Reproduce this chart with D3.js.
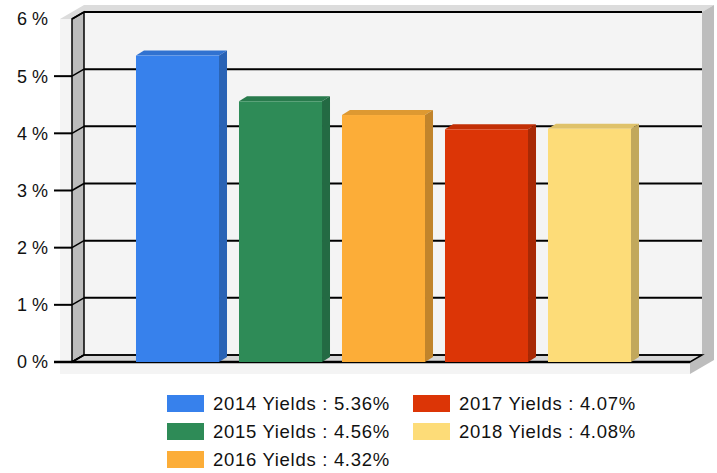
<!DOCTYPE html>
<html>
<head>
<meta charset="utf-8">
<script src="https://cdn.jsdelivr.net/npm/d3@7"></script>
<style>
  body { margin: 0; background: #fff; }
  text { font-family: "Liberation Sans", Arial, sans-serif; }
</style>
</head>
<body>
<div id="chart"></div>
<script>
// data
const years = ["2014", "2015", "2016", "2017", "2018"];
const yields = [5.36, 4.56, 4.32, 4.07, 4.08];
const colors = ["#3781EC", "#2E8B57", "#FCAD38", "#DC3506", "#FDDC78"];
const yTicks = [0, 1, 2, 3, 4, 5, 6];

const W = 717, H = 473;
// wall depth offset (front -> back)
const depth = {dx: 12, dy: -7};
// bar depth offset
const barDepth = {dx: 8, dy: -5};

const front = {left: 72, right: 690, bottom: 362, top: 19};

const svg = d3.select("#chart").append("svg")
    .attr("width", W)
    .attr("height", H);

// front-plane y scale; the back wall is the same shifted by depth
const yScale = d3.scaleLinear().domain([0, 6]).range([front.bottom, front.bottom - 6 * 57.17]);
const yBack = v => yScale(v) + depth.dy;

const xScale = d3.scaleBand().domain(years)
    .range([126, 641])
    .paddingInner(0.194)
    .paddingOuter(0.097);

const poly = pts => pts.map(p => p.join(",")).join(" ");

// outer frame box
const fx0 = 60, fx1 = front.right, fy0 = front.top, fy1 = 374;
const od = {dx: 24, dy: -14};
svg.append("rect")
    .attr("x", fx0).attr("y", fy0)
    .attr("width", fx1 - fx0).attr("height", fy1 - fy0)
    .attr("fill", "#f4f4f4");
svg.append("polygon")
    .attr("points", poly([[fx0, fy0], [fx0 + od.dx, fy0 + od.dy], [fx1 + od.dx, fy0 + od.dy], [fx1, fy0]]))
    .attr("fill", "#dcdcdc");
svg.append("polygon")
    .attr("points", poly([[fx1, fy0], [fx1 + od.dx, fy0 + od.dy], [fx1 + od.dx, fy1 + od.dy], [fx1, fy1]]))
    .attr("fill", "#bdbdbd");

// back wall
const bx0 = front.left + depth.dx, bx1 = front.right + depth.dx;
svg.append("rect")
    .attr("x", bx0).attr("y", yBack(6))
    .attr("width", bx1 - bx0).attr("height", yBack(0) - yBack(6))
    .attr("fill", "#f4f4f4");

// left wall
svg.append("polygon")
    .attr("points", poly([[front.left, yScale(6)], [bx0, yBack(6)], [bx0, yBack(0)], [front.left, yScale(0)]]))
    .attr("fill", "#bcbcbc")
    .attr("stroke", "#000")
    .attr("stroke-width", 1.5);

// floor
svg.append("polygon")
    .attr("points", poly([[front.left, yScale(0)], [bx0, yBack(0)], [bx1, yBack(0)], [front.right, yScale(0)]]))
    .attr("fill", "#d6d6d6")
    .attr("stroke", "#000")
    .attr("stroke-width", 1.5);

// grid lines on back wall + ticks
const grid = svg.append("g").attr("class", "grid");
yTicks.forEach(t => {
    grid.append("line")
        .attr("x1", bx0).attr("x2", bx1)
        .attr("y1", yBack(t)).attr("y2", yBack(t))
        .attr("stroke", "#000").attr("stroke-width", t === 0 ? 1.5 : 2);
    grid.append("line")
        .attr("x1", front.left).attr("x2", bx0)
        .attr("y1", yScale(t)).attr("y2", yBack(t))
        .attr("stroke", "#000").attr("stroke-width", 1.5);
    if (t < 6) {
        grid.append("line")
            .attr("x1", 54).attr("x2", front.left)
            .attr("y1", yScale(t)).attr("y2", yScale(t))
            .attr("stroke", "#000").attr("stroke-width", 2);
    }
    grid.append("text")
        .attr("x", 48)
        .attr("y", yScale(t))
        .attr("dy", "0.36em")
        .attr("text-anchor", "end")
        .attr("font-size", 18)
        .attr("fill", "#111")
        .text(t + " %");
});

// front floor edge
svg.append("line")
    .attr("x1", 54).attr("x2", front.right)
    .attr("y1", yScale(0)).attr("y2", yScale(0))
    .attr("stroke", "#000").attr("stroke-width", 2.5);

// bars
const bars = svg.selectAll(".bar")
    .data(years.map((y, i) => ({year: y, value: yields[i], color: colors[i]})))
    .join("g")
    .attr("class", "bar");

bars.append("polygon")
    .attr("points", d => {
        const x0 = xScale(d.year), x1 = x0 + xScale.bandwidth();
        const yt = yScale(d.value);
        return poly([[x0, yt], [x0 + barDepth.dx, yt + barDepth.dy], [x1 + barDepth.dx, yt + barDepth.dy], [x1, yt]]);
    })
    .attr("fill", d => d3.color(d.color).darker(0.35));

bars.append("polygon")
    .attr("points", d => {
        const x1 = xScale(d.year) + xScale.bandwidth();
        const yt = yScale(d.value), yb = yScale(0);
        return poly([[x1, yt], [x1 + barDepth.dx, yt + barDepth.dy], [x1 + barDepth.dx, yb + barDepth.dy], [x1, yb]]);
    })
    .attr("fill", d => d3.color(d.color).darker(0.75));

bars.append("rect")
    .attr("x", d => xScale(d.year))
    .attr("y", d => yScale(d.value))
    .attr("width", xScale.bandwidth())
    .attr("height", d => yScale(0) - yScale(d.value))
    .attr("fill", d => d.color);

// legend
const legendItems = years.map((y, i) => ({label: y + " Yields : " + yields[i].toFixed(2) + "%", color: colors[i]}));
const legendPos = [[167, 395], [167, 423], [167, 451], [413, 395], [413, 423]];
const legend = svg.append("g").attr("class", "legend");
legendItems.forEach((d, i) => {
    const [lx, ly] = legendPos[i];
    legend.append("rect")
        .attr("x", lx).attr("y", ly)
        .attr("width", 37).attr("height", 17)
        .attr("fill", d.color);
    legend.append("text")
        .attr("x", lx + 46)
        .attr("y", ly + 8.5)
        .attr("dy", "0.36em")
        .attr("font-size", 18.5)
        .attr("letter-spacing", 0.7)
        .attr("fill", "#111")
        .text(d.label);
});
</script>
</body>
</html>
